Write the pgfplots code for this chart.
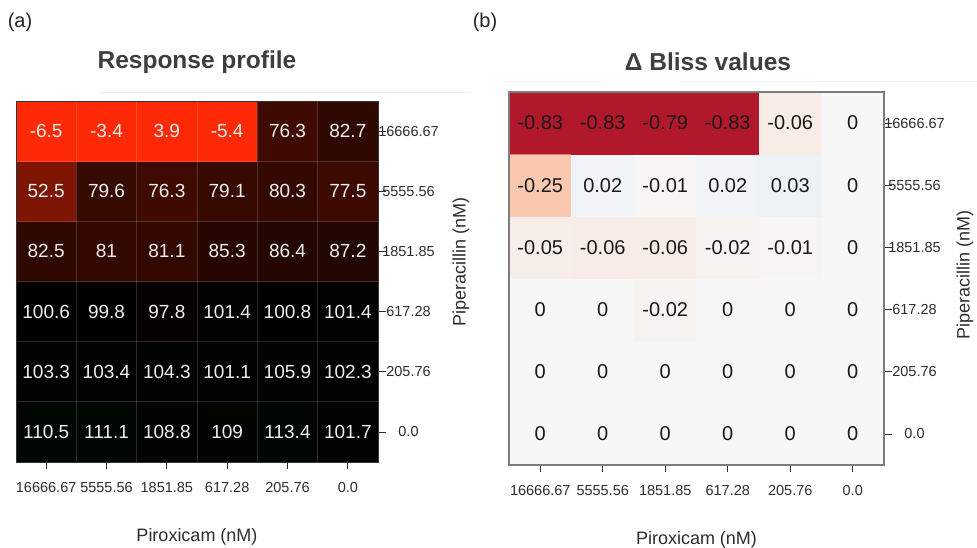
\documentclass[border=0pt]{standalone}
\usepackage{pgfplots}
\pgfplotsset{compat=1.18}
\usepackage{pgfplotstable}
\usepackage{fontspec}
\setmainfont{Liberation Sans}

\definecolor{tickgray}{RGB}{45,45,45}
\definecolor{titlegray}{RGB}{62,62,62}
\definecolor{framegray}{RGB}{125,125,125}
\definecolor{celltext}{RGB}{238,238,238}

% Response profile (x: Piroxicam index 0..5 = 16666.67..0.0, y: Piperacillin index 0..5 = 0.0..16666.67)
\pgfplotstableread{
x y v
0 0 110.5
1 0 111.1
2 0 108.8
3 0 109
4 0 113.4
5 0 101.7
0 1 103.3
1 1 103.4
2 1 104.3
3 1 101.1
4 1 105.9
5 1 102.3
0 2 100.6
1 2 99.8
2 2 97.8
3 2 101.4
4 2 100.8
5 2 101.4
0 3 82.5
1 3 81
2 3 81.1
3 3 85.3
4 3 86.4
5 3 87.2
0 4 52.5
1 4 79.6
2 4 76.3
3 4 79.1
4 4 80.3
5 4 77.5
0 5 -6.5
1 5 -3.4
2 5 3.9
3 5 -5.4
4 5 76.3
5 5 82.7
}\respdata

% Delta Bliss values
\pgfplotstableread{
x y v
0 0 0
1 0 0
2 0 0
3 0 0
4 0 0
5 0 0
0 1 0
1 1 0
2 1 0
3 1 0
4 1 0
5 1 0
0 2 0
1 2 0
2 2 -0.02
3 2 0
4 2 0
5 2 0
0 3 -0.05
1 3 -0.06
2 3 -0.06
3 3 -0.02
4 3 -0.01
5 3 0
0 4 -0.25
1 4 0.02
2 4 -0.01
3 4 0.02
4 4 0.03
5 4 0
0 5 -0.83
1 5 -0.83
2 5 -0.79
3 5 -0.83
4 5 -0.06
5 5 0
}\blissdata

\tikzset{lab/.style={font=\fontsize{18}{21}\selectfont, text=tickgray, anchor=center}}

\pgfplotsset{
  hm/.style={
    scale only axis, anchor=south west,
    xmin=-0.5, xmax=5.5, ymin=-0.5, ymax=5.5,
    xtick={0,...,5}, ytick={0,...,5},
    xticklabels={16666.67,5555.56,1851.85,617.28,205.76,0.0},
    yticklabels={0.0,205.76,617.28,1851.85,5555.56,16666.67},
    xtick pos=bottom, ytick pos=right,
    tick align=outside, major tick length=7.5pt,
    tick style={tickgray, line width=0.8pt},
    ticklabel style={font=\fontsize{14.5}{17}\selectfont, text=tickgray},
    xticklabel style={anchor=center, yshift=-18pt},
    yticklabel style={anchor=center, xshift=23pt},
    xlabel={Piroxicam (nM)},
    ylabel={Piperacillin (nM)},
    axis on top,
  },
}

\begin{document}
\begin{tikzpicture}[x=1pt,y=1pt]
\useasboundingbox (0,0) rectangle (977,548);

% faint title separators
\draw[gray!12, line width=1pt] (100,455) -- (470,455);
\draw[gray!12, line width=1pt] (502,466) -- (603,466);
\draw[gray!12, line width=1pt] (680,466) -- (977,466);

% panel letters and titles
\node[font=\fontsize{20}{24}\selectfont, text=black!85] at (20,526) {(a)};
\node[font=\fontsize{20}{24}\selectfont, text=black!85] at (485,526) {(b)};
\node[font=\bfseries\fontsize{24.5}{28}\selectfont, text=titlegray] at (197,486) {Response profile};
\node[font=\bfseries\fontsize{24.5}{28}\selectfont, text=titlegray] at (708,486) {Δ Bliss values};

% (a) Response profile
\begin{axis}[hm,
  at={(16pt,86pt)}, width=362pt, height=361pt,
  colormap={resp}{rgb255(0pt)=(255,42,5); rgb255(4pt)=(255,42,5); rgb255(100pt)=(0,0,0); rgb255(200pt)=(0,55,0)},
  point meta min=0, point meta max=200,
  axis line style={draw=black!80, line width=0.6pt},
  minor xtick={0.5,1.5,...,4.5}, minor ytick={0.5,1.5,...,4.5},
  minor tick length=0pt,
  xminorgrids, yminorgrids,
  minor grid style={white, opacity=0.16, line width=0.9pt},
  every axis x label/.style={lab, at={(axis description cs:0.5,-0.208)}},
  every axis y label/.style={lab, at={(axis description cs:1.229,0.554)}, rotate=90},
]
\addplot[matrix plot*, mesh/cols=6, point meta=explicit] table[x=x, y=y, meta=v] {\respdata};
\addplot[draw=none, nodes near coords, point meta=explicit symbolic,
  nodes near coords style={anchor=center, font=\fontsize{19}{22}\selectfont, text=celltext}]
  table[x=x, y=y, meta=v] {\respdata};
\end{axis}

% (b) Delta Bliss
\begin{axis}[hm,
  at={(509pt,83pt)}, width=375pt, height=373pt,
  colormap={bliss}{rgb255(0pt)=(178,24,43); rgb255(6pt)=(178,24,43); rgb255(58pt)=(250,200,175); rgb255(83pt)=(247,247,247); rgb255(88pt)=(230,238,247); rgb255(166pt)=(33,102,172)},
  point meta min=-0.83, point meta max=0.83,
  axis line style={draw=framegray, line width=1.1pt},
  every axis x label/.style={lab, at={(axis description cs:0.5,-0.201)}},
  every axis y label/.style={lab, at={(axis description cs:1.216,0.509)}, rotate=90},
]
\addplot[matrix plot*, mesh/cols=6, point meta=explicit] table[x=x, y=y, meta=v] {\blissdata};
\addplot[draw=none, nodes near coords, point meta=explicit symbolic,
  nodes near coords style={anchor=center, font=\fontsize{20}{23}\selectfont, text=black!90}]
  table[x=x, y=y, meta=v] {\blissdata};
\end{axis}
\end{tikzpicture}
\end{document}
